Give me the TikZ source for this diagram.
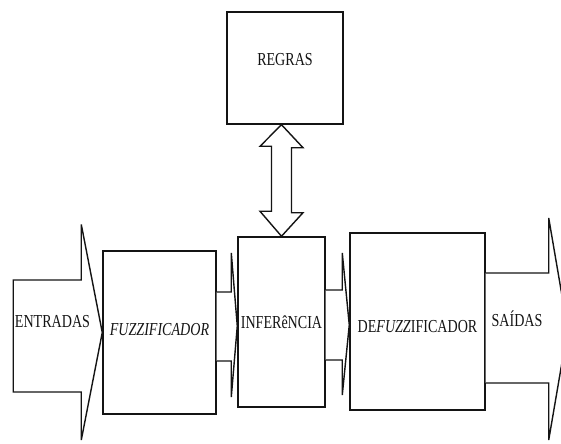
\documentclass[tikz,border=0pt]{standalone}
\usepackage{fontspec}
\setmainfont{Liberation Serif}
\usetikzlibrary{calc}
\definecolor{cInk}{HTML}{141414}
\def\wRegular{1.0pt}
\tikzset{
  blk/.style={draw=cInk, line width=\wRegular, fill=white, inner sep=0pt},
  fat/.style={draw=cInk, line width=\wRegular, fill=white, line join=miter},
  lbl/.style={inner sep=0pt, text=cInk},
}
\newcommand{\tall}[1]{\scalebox{1}[1.3]{#1}}

\begin{document}
\begin{tikzpicture}[x=0.025cm, y=-0.025cm]
% pixel grid of the reference, y pointing down
\useasboundingbox (0,0) rectangle (561,444);
\clip (0,0) rectangle (561,444);

% ---- blocks
\node[blk, minimum width=2.9cm,   minimum height=2.8cm,
      label={[lbl, yshift=0.2cm]center:\tall{REGRAS}}] (regras) at (285, 68) {};
\node[blk, minimum width=2.825cm, minimum height=4.075cm,
      label={[lbl, yshift=0.075cm]center:\tall{\textit{FUZZIFICADOR}}}] (fuzz) at (159.5, 332.5) {};
\node[blk, minimum width=2.175cm, minimum height=4.25cm,
      label={[lbl]center:\tall{INFERêNCIA}}] (infer) at (281.5, 322) {};
\node[blk, minimum width=3.375cm, minimum height=4.425cm,
      label={[lbl, yshift=-0.125cm]center:\tall{DE\textit{FUZZ}IFICADOR}}] (defuzz) at (417.5, 321.5) {};

% ---- block arrows
\draw[fat] ($(fuzz.west)+(-89,-52.5)$) -- ($(fuzz.west)+(-21,-52.5)$) -- ($(fuzz.west)+(-21,-108)$)
  -- (fuzz.west) -- ($(fuzz.west)+(-21,107.5)$) -- ($(fuzz.west)+(-21,59.5)$) -- ($(fuzz.west)+(-89,59.5)$) -- cycle;
\draw[fat] ($(fuzz.east)+(0,-40.5)$) -- ($(infer.west)+(-6,-30)$) -- ($(infer.west)+(-6,-69)$)
  -- ($(infer.west)+(0,4)$) -- ($(infer.west)+(-6,75)$) -- ($(infer.west)+(-6,39)$) -- ($(fuzz.east)+(0,28.5)$);
\draw[fat] ($(infer.east)+(0,-32)$) -- ($(defuzz.west)+(-7,-31.5)$) -- ($(defuzz.west)+(-7,-68.5)$)
  -- ($(defuzz.west)+(0,3.5)$) -- ($(defuzz.west)+(-7,73.5)$) -- ($(defuzz.west)+(-7,38.5)$) -- ($(infer.east)+(0,38)$);
\draw[fat] (defuzz.east) ++(0,-48.5) -- ++(63,0) -- ++(0,-55) -- ++(19,111) -- ++(-19,111) -- ++(0,-57) -- ++(-63,0);

% ---- rules <-> inference
\coordinate (dtop) at (regras.south -| infer.north);
\draw[fat] (dtop) -- ++(21.5,23) -- ++(-11.5,0) -- ++(0,65) -- ++(11.5,0) -- (infer.north)
  -- ++(-21.5,-25) -- ++(11.5,0) -- ++(0,-65) -- ++(-11.5,0) -- cycle;

% ---- arrow labels
\node[lbl] (in)  at (52.5, 321.5) {\tall{ENTRADAS}};
\node[lbl] (out) at (517, 319)    {\tall{SAÍDAS}};
\end{tikzpicture}
\end{document}
